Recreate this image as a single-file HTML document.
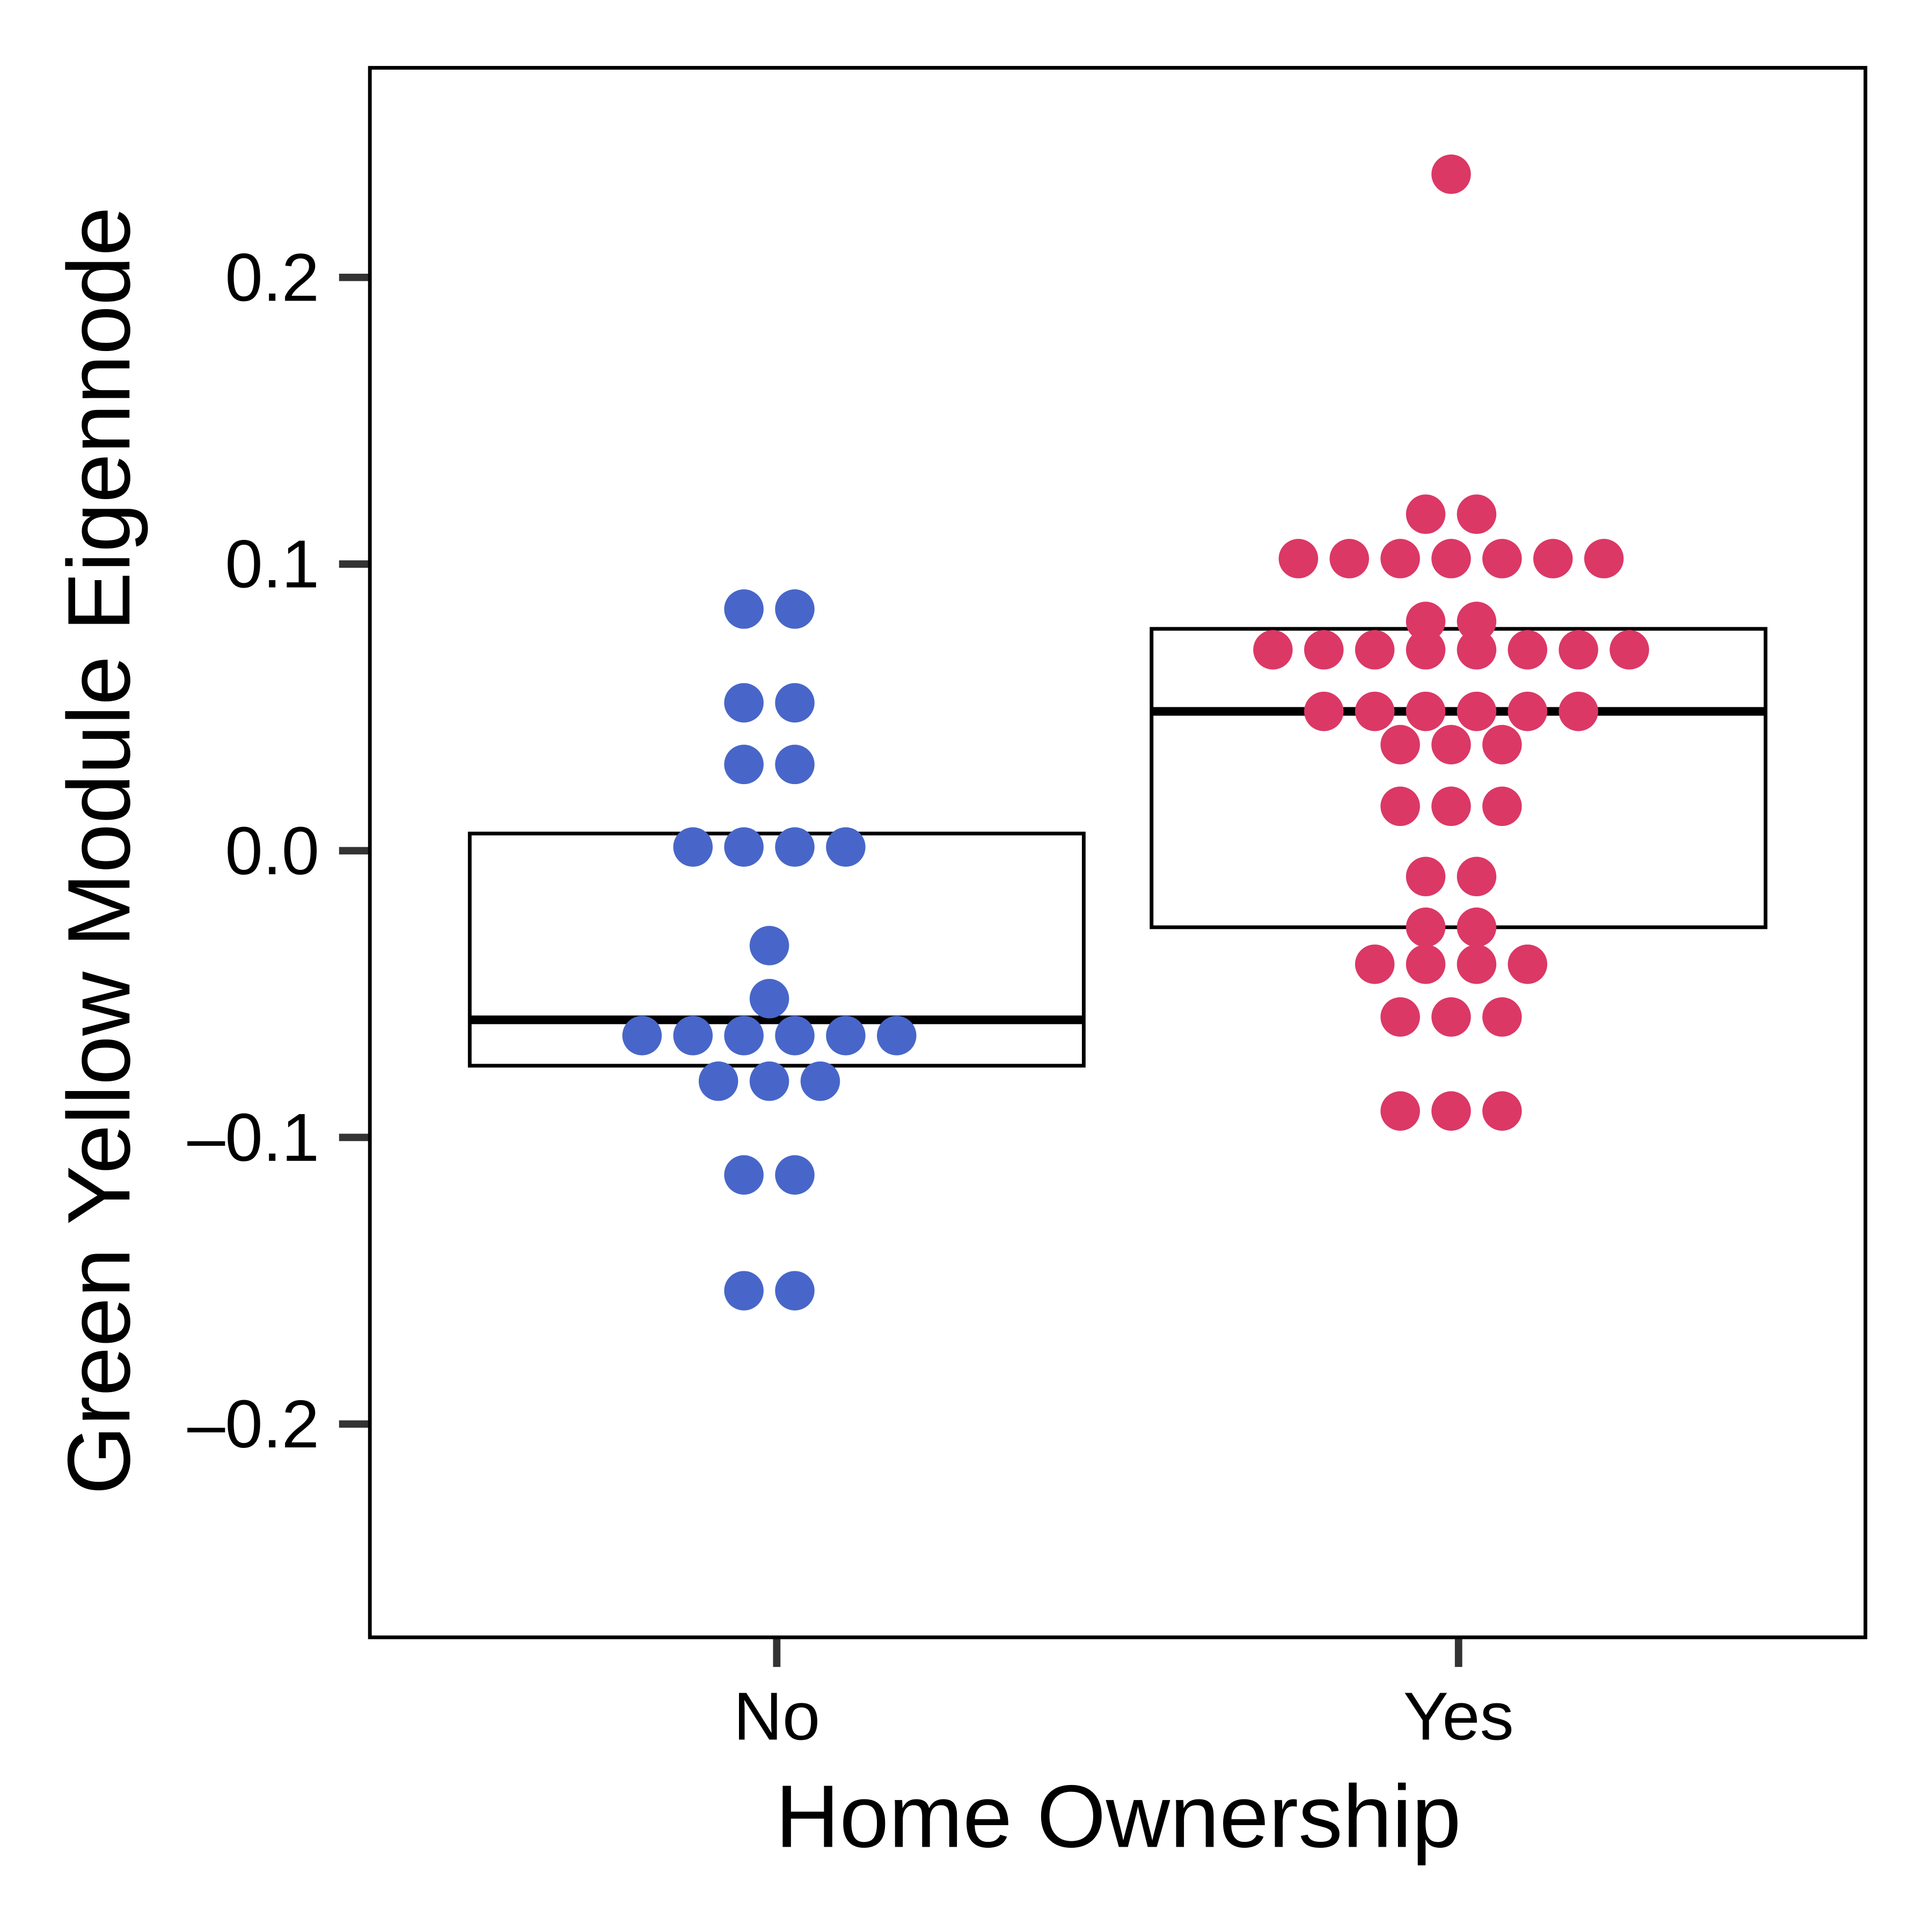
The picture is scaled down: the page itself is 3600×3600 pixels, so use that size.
<!DOCTYPE html>
<html><head><meta charset="utf-8"><style>html,body{margin:0;padding:0;background:#fff}svg{display:block}</style></head>
<body>
<svg id="chart" width="3600" height="3600" viewBox="0 0 1567 1567" xmlns="http://www.w3.org/2000/svg" font-family="Liberation Sans, sans-serif">
<rect x="0" y="0" width="1567" height="1567" fill="#fff"/>
<g id="marks"></g>
<rect x="300" y="55" width="1213" height="1273" fill="none" stroke="#000" stroke-width="3"/>
<text x="80" y="690" font-size="72" text-anchor="middle" transform="rotate(-90 80 690)" dy="25">Green Yellow Module Eigennode</text>
<text x="907" y="1498" font-size="72" text-anchor="middle">Home Ownership</text>
</svg>
<script>
const categories = ["No", "Yes"];
const noValues = [0.0843,0.0843,0.0516,0.0516,0.0301,0.0301,0.0013,0.0013,0.0013,0.0013,-0.0331,-0.0516,-0.0645,-0.0645,-0.0645,-0.0645,-0.0645,-0.0645,-0.0804,-0.0804,-0.0804,-0.1131,-0.1131,-0.1535,-0.1535];
const yesValues = [0.236,0.1174,0.1174,0.1019,0.1019,0.1019,0.1019,0.1019,0.1019,0.1019,0.080,0.080,0.0701,0.0701,0.0701,0.0701,0.0701,0.0701,0.0701,0.0701,0.0486,0.0486,0.0486,0.0486,0.0486,0.0486,0.037,0.037,0.037,0.0155,0.0155,0.0155,-0.009,-0.009,-0.0267,-0.0267,-0.0396,-0.0396,-0.0396,-0.0396,-0.058,-0.058,-0.058,-0.0908,-0.0908,-0.0908];
const boxQ1 = [-0.075, -0.0267];
const boxMedian = [-0.059, 0.0486];
const boxQ3 = [0.006, 0.0774];
const yTicks = [0.2, 0.1, 0.0, -0.1, -0.2];
const yTickLabels = ["0.2", "0.1", "0.0", "\u20130.1", "\u20130.2"];
const colors = ["#4866c9", "#db3866"];

const NS = "http://www.w3.org/2000/svg";
const svg = document.getElementById("chart");
const g = document.getElementById("marks");
function yScale(v){ return 690 - v * 2325; }
function xScale(i){ return 630 + i * 553; }
function mk(tag, attrs, parent){ const e = document.createElementNS(NS, tag); for (const k in attrs) e.setAttribute(k, attrs[k]); (parent||g).appendChild(e); return e; }

yTicks.forEach((t, i) => {
  const y = yScale(t);
  const tk = mk("line", {x1:275, x2:299, y1:y, y2:y, stroke:"#333", "stroke-width":6});
  
  
  const lb = mk("text", {x:259, y:y+19, "font-size":55, "text-anchor":"end"}, svg);
  lb.textContent = yTickLabels[i];
  
  
});
categories.forEach((c, i) => {
  const x = xScale(i);
  const tk = mk("line", {x1:x, x2:x, y1:1329, y2:1352, stroke:"#333", "stroke-width":6});
  
  
  const lb = mk("text", {x:x, y:1411, "font-size":55, "text-anchor":"middle"}, svg);
  lb.textContent = c;
  
  
});
categories.forEach((c, i) => {
  const x = xScale(i);
  const b = mk("rect", {x:x-249, y:yScale(boxQ3[i]), width:498, height:yScale(boxQ1[i])-yScale(boxQ3[i]), fill:"none", stroke:"#000", "stroke-width":3});
  
  
  const m = mk("line", {x1:x-249, x2:x+249, y1:yScale(boxMedian[i]), y2:yScale(boxMedian[i]), stroke:"#000", "stroke-width":7});
  
  
});
[noValues, yesValues].forEach((vals, i) => {
  const groups = new Map();
  vals.forEach(v => { const k = v.toFixed(4); groups.set(k, (groups.get(k)||0) + 1); });
  const cx0 = xScale(i) - 6;
  groups.forEach((n, k) => {
    const v = parseFloat(k);
    for (let j = 0; j < n; j++) {
      const cx = cx0 + (j - (n-1)/2) * 41.3;
      const d = mk("circle", {cx:cx, cy:yScale(v), r:16, fill:colors[i]});
      
      
    }
  });
});
</script>
</body></html>
